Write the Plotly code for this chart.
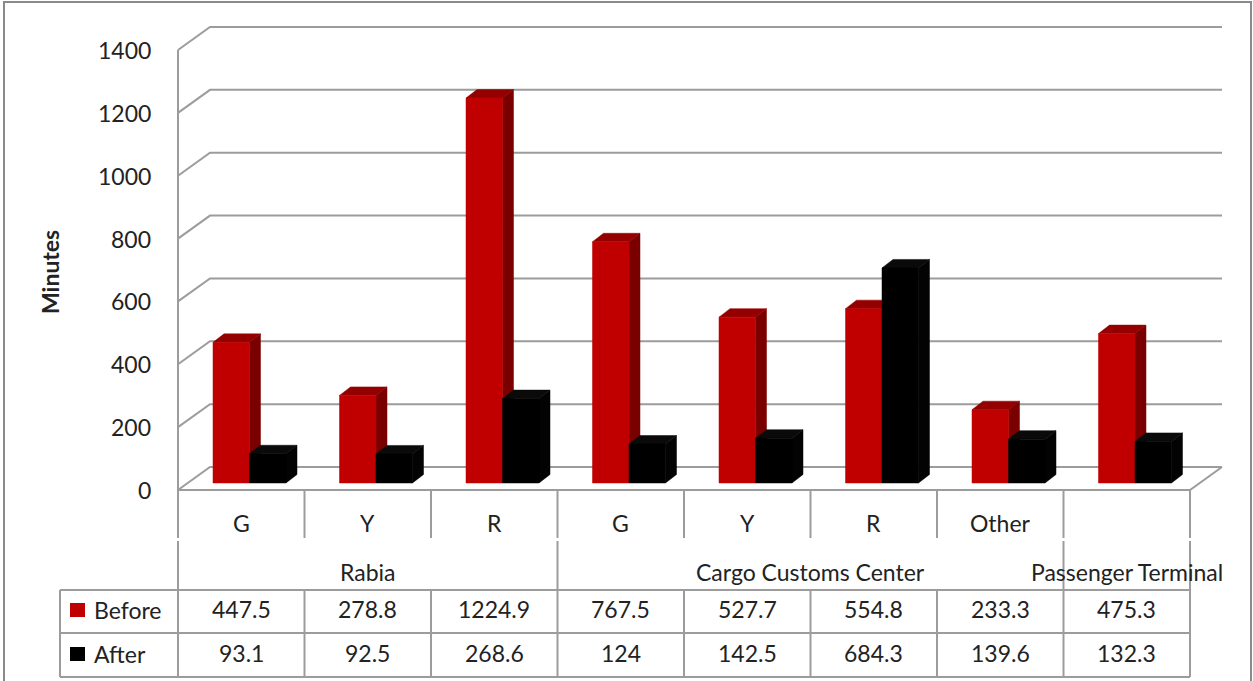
import plotly.graph_objects as go

# ---- data ----
categories = ["G", "Y", "R", "G", "Y", "R", "Other", ""]
groups = ["Rabia", "Cargo Customs Center", "Passenger Terminal"]
group_spans = [3, 4, 1]
before = [447.5, 278.8, 1224.9, 767.5, 527.7, 554.8, 233.3, 475.3]
after = [93.1, 92.5, 268.6, 124, 142.5, 684.3, 139.6, 132.3]
series_names = ["Before", "After"]
y_ticks = [0, 200, 400, 600, 800, 1000, 1200, 1400]
y_title = "Minutes"

# ---- page geometry (pixels) ----
W, H = 1253, 681
X0_PX = 178            # left edge of the front plane
CAT_PX = 126.5         # width of one category column
Y0_PX = 490            # front floor edge (value 0)
MIN_PX = 440 / 1400    # pixels per minute

def px_to_x(px):
    return (px - X0_PX) / CAT_PX

def py(px):
    # paper coordinate for a pixel row
    return 1 - px / H

N = len(categories)
WALL_DX = 32 / CAT_PX          # depth offset of the back wall
WALL_DY = 23 / MIN_PX
BAR_LEFT = 35 / CAT_PX         # first bar offset inside a column
BAR_W = 36.5 / CAT_PX
BAR_BASE = 7 / MIN_PX
BAR_DX = 11 / CAT_PX           # bar depth
BAR_DY = 8.5 / MIN_PX

GRID = "#9c9c9c"
TEXT = "#222222"
FONT = "Lato"
TXT_SIZE = 23
TICK_SIZE = 23

series_values = [before, after]
face_colors = [
    ("#c00000", "#7a0000", "#940000"),  # front, side, top
    ("#000000", "#030303", "#0a0a0a"),
]

fig = go.Figure()

# back wall gridlines running from the front axis to the rear plane
for v in y_ticks:
    fig.add_trace(go.Scatter(
        x=[0, WALL_DX, N + WALL_DX], y=[v, v + WALL_DY, v + WALL_DY],
        mode="lines", line=dict(color=GRID, width=2), hoverinfo="skip"))

# front vertical axis and floor edges
fig.add_trace(go.Scatter(x=[0, 0], y=[0, y_ticks[-1]], mode="lines",
                         line=dict(color=GRID, width=2), hoverinfo="skip"))
fig.add_trace(go.Scatter(x=[0, N, N + WALL_DX], y=[0, 0, WALL_DY], mode="lines",
                         line=dict(color=GRID, width=2), hoverinfo="skip"))

# 3-D style bars: front, side and top faces
for s, vals in enumerate(series_values):
    front_x, front_y, side_x, side_y, top_x, top_y = [], [], [], [], [], []
    for i, v in enumerate(vals):
        xl = i + BAR_LEFT + s * BAR_W
        xr = xl + BAR_W
        yb, yt = BAR_BASE, BAR_BASE + v
        front_x += [xl, xr, xr, xl, xl, None]
        front_y += [yb, yb, yt, yt, yb, None]
        side_x += [xr, xr + BAR_DX, xr + BAR_DX, xr, xr, None]
        side_y += [yb, yb + BAR_DY, yt + BAR_DY, yt, yb, None]
        top_x += [xl, xl + BAR_DX, xr + BAR_DX, xr, xl, None]
        top_y += [yt, yt + BAR_DY, yt + BAR_DY, yt, yt, None]
    front_c, side_c, top_c = face_colors[s]
    for xs, ys, c in ((side_x, side_y, side_c), (top_x, top_y, top_c),
                      (front_x, front_y, front_c)):
        fig.add_trace(go.Scatter(x=xs, y=ys, mode="lines", fill="toself",
                                 fillcolor=c, line=dict(color=c, width=0.5),
                                 hoverinfo="skip", name=series_names[s]))

shapes = []
annotations = []

def vline(x, y0px, y1px, color=GRID, width=2):
    shapes.append(dict(type="line", xref="x", yref="paper", x0=x, x1=x,
                       y0=py(y0px), y1=py(y1px), line=dict(color=color, width=width)))

def hline(x0, x1, ypx, color=GRID, width=2):
    shapes.append(dict(type="line", xref="x", yref="paper", x0=x0, x1=x1,
                       y0=py(ypx), y1=py(ypx), line=dict(color=color, width=width)))

def label(x, y, text, xref="x", yref="paper", size=TXT_SIZE, **kw):
    opts = dict(x=x, y=y, xref=xref, yref=yref, text=text, showarrow=False,
                xanchor="center", yanchor="middle",
                font=dict(size=size, color=TEXT, family=FONT))
    opts.update(kw)
    annotations.append(opts)

LEG_LEFT = px_to_x(60)
ROW_CAT_END, ROW_GRP_END, ROW_MID, ROW_END = 538, 590, 633, 677

# data table grid
for i in range(N + 1):
    vline(i, Y0_PX, ROW_CAT_END)
    vline(i, ROW_GRP_END, ROW_END)
edges = [0]
for span in group_spans:
    edges.append(edges[-1] + span)
for e in edges:
    vline(e, ROW_CAT_END + 3, ROW_GRP_END)
vline(LEG_LEFT, ROW_GRP_END, ROW_END)
for ypx in (ROW_GRP_END, ROW_MID, ROW_END):
    hline(LEG_LEFT, N, ypx)

# outer chart border
shapes.append(dict(type="rect", xref="paper", yref="paper",
                   x0=4 / W, x1=1251 / W, y0=py(690), y1=py(2),
                   line=dict(color="#8a8a8a", width=2)))

# legend keys in the table
key_colors = [face_colors[0][0], face_colors[1][0]]
for k, ypx in enumerate((610, 654)):
    shapes.append(dict(type="rect", xref="x", yref="paper",
                       x0=px_to_x(70), x1=px_to_x(85),
                       y0=py(ypx + 7), y1=py(ypx - 7),
                       fillcolor=key_colors[k], line=dict(width=0)))
    label(px_to_x(92), py(ypx), series_names[k], xanchor="left")

# y tick labels
for v in y_ticks:
    label(px_to_x(153), v, str(v), yref="y", size=TICK_SIZE, xanchor="right")

# axis title
label(px_to_x(50), py(272), f"<b>{y_title}</b>", textangle=-90)

# category and group labels
for i, c in enumerate(categories):
    label(i + 0.5, py(523), c)
for g, (a, b) in zip(groups, zip(edges[:-1], edges[1:])):
    label((a + b) / 2, py(572), g)

# values in the table
for vals, ypx in zip(series_values, (609, 653)):
    for i, v in enumerate(vals):
        label(i + 0.5, py(ypx), f"{v:g}")

fig.update_layout(
    width=W, height=H,
    margin=dict(l=0, r=0, t=0, b=0),
    paper_bgcolor="white", plot_bgcolor="white",
    showlegend=False,
    xaxis=dict(range=[px_to_x(0), px_to_x(W)], visible=False, fixedrange=True),
    yaxis=dict(range=[-(H - Y0_PX) / MIN_PX, Y0_PX / MIN_PX], visible=False,
               fixedrange=True),
    shapes=shapes,
    annotations=annotations,
)

fig.write_html("out.html")
